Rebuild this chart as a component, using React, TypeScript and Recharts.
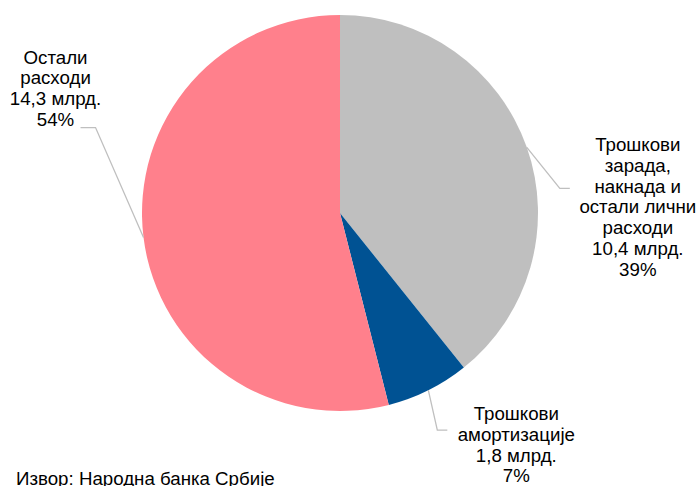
import { Cell, Pie, PieChart } from "recharts";

const categories = [
  ["Трошкови", "зарада,", "накнада и", "остали лични", "расходи"],
  ["Трошкови", "амортизације"],
  ["Остали", "расходи"],
];
const values = [10.4, 1.8, 14.3];
const valueLabels = ["10,4 млрд.", "1,8 млрд.", "14,3 млрд."];
const percentLabels = ["39%", "7%", "54%"];
const colors = ["#BFBFBF", "#005293", "#FF808C"];

// leader line elbow + text placement, relative to slice edge point
const labelLayout = [
  { elbow: [33, 41], tail: 10, text: [68, -37] },
  { elbow: [9, 40], tail: 10, text: [69, -10] },
  { elbow: [-48, -110], tail: -15, text: [-25, -64] },
];

const chartData = values.map((value, i) => ({ name: categories[i].join(" "), value }));

const RADIAN = Math.PI / 180;
const FONT = "'Liberation Sans', Arial, sans-serif";
const FONT_SIZE = 18.7;
const LINE_H = 20.7;

function SliceLabel(props: any) {
  const { cx, cy, midAngle, outerRadius, index } = props;
  const x0 = cx + outerRadius * Math.cos(-midAngle * RADIAN);
  const y0 = cy + outerRadius * Math.sin(-midAngle * RADIAN);
  const cfg = labelLayout[index];
  const x1 = x0 + cfg.elbow[0];
  const y1 = y0 + cfg.elbow[1];
  const x2 = x1 + cfg.tail;
  const tx = x2 + cfg.text[0];
  const ty = y1 + cfg.text[1];
  const lines = [...categories[index], valueLabels[index], percentLabels[index]];
  return (
    <g>
      <polyline points={`${x0},${y0} ${x1},${y1} ${x2},${y1}`} fill="none" stroke="#BFBFBF" strokeWidth={1.3} />
      <text x={tx} y={ty} textAnchor="middle" fontFamily={FONT} fontSize={FONT_SIZE} fill="#000">
        {lines.map((line, i) => (
          <tspan key={i} x={tx} y={ty + i * LINE_H}>
            {line}
          </tspan>
        ))}
      </text>
    </g>
  );
}

export default function App() {
  return (
    <div style={{ position: "fixed", left: 0, top: 0, width: 698, height: 486, overflow: "hidden", background: "#fff" }}>
      <PieChart width={698} height={486} margin={{ top: 0, right: 0, bottom: 0, left: 0 }}>
        <Pie
          data={chartData}
          dataKey="value"
          cx={340}
          cy={213}
          outerRadius={198}
          startAngle={90}
          endAngle={-270}
          stroke="none"
          label={SliceLabel}
          labelLine={false}
          isAnimationActive={false}
        >
          {chartData.map((_, i) => (
            <Cell key={i} fill={colors[i]} />
          ))}
        </Pie>
      </PieChart>
      <div style={{ position: "absolute", left: 16, top: 468, fontFamily: FONT, fontSize: FONT_SIZE, color: "#000", whiteSpace: "nowrap" }}>
        Извор: Народна банка Србије
      </div>
    </div>
  );
}
